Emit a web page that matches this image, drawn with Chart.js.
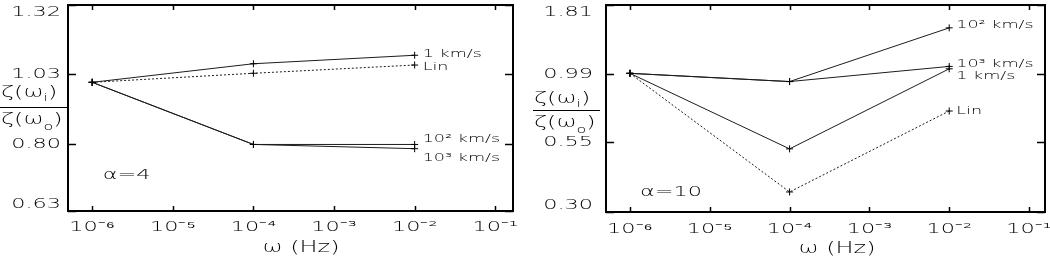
<!DOCTYPE html>
<html><head><meta charset="utf-8">
<script src="https://cdn.jsdelivr.net/npm/chart.js@4.4.1/dist/chart.umd.min.js"></script>
<style>
html,body{margin:0;padding:0;background:#fff;}
#wrap{position:relative;width:1050px;height:256px;overflow:hidden;background:#fff;}
.panel{position:absolute;top:0;width:525px;height:256px;}
canvas{display:block;}
</style></head><body>
<div id="wrap">
<div class="panel" style="left:0"><canvas id="c1" width="525" height="256"></canvas></div>
<div class="panel" style="left:525px"><canvas id="c2" width="525" height="256"></canvas></div>
</div>
<script>
// ---------- data ----------
const frequencies = [1e-6, 1e-4, 1e-2];
const xTickValues = [1e-6, 1e-5, 1e-4, 1e-3, 1e-2, 1e-1];
const xTickLabels = ['10⁻⁶', '10⁻⁵', '10⁻⁴', '10⁻³', '10⁻²', '10⁻¹'];
const xTitle = 'ω (Hz)';
const seriesNames = ['1 km/s', 'Lin', '10² km/s', '10³ km/s'];

// alpha = 4 panel
const alpha4Label = 'α=4';
const a4_1kms  = [1.00, 1.069, 1.102];
const a4_lin   = [1.00, 1.033, 1.064];
const a4_1e2   = [1.00, 0.800, 0.800];
const a4_1e3   = [1.00, 0.800, 0.788];
const a4YTicks = [0.63, 0.80, 1.03, 1.32];
const a4YTickLabels = ['0.63', '0.80', '1.03', '1.32'];

// alpha = 10 panel
const alpha10Label = 'α=10';
const a10_1kms = [1.00, 0.519, 1.040];
const a10_lin  = [1.00, 0.357, 0.721];
const a10_1e2  = [1.00, 0.931, 1.484];
const a10_1e3  = [1.00, 0.931, 1.062];
const a10YTicks = [0.30, 0.55, 0.99, 1.81];
const a10YTickLabels = ['0.30', '0.55', '0.99', '1.81'];

// ---------- helpers ----------
const FONT = "'DejaVu Sans', sans-serif";
const WEIGHT = '200';
const INK = '#000';
const STRETCH = 1.6;   // wide lettering as in the original figure

function widenText(ctx, k) {
  const orig = ctx.fillText;
  ctx.fillText = function (text, x, y) {
    this.save();
    this.translate(x, y);
    this.scale(k, 1);
    orig.call(this, text, 0, 0);
    this.restore();
  };
}
function font(size) { return WEIGHT + ' ' + size + 'px ' + FONT; }

function pts(values) { return frequencies.map((f, i) => ({x: f, y: values[i]})); }

function makeDataset(name, values, dashed, endLabel) {
  return {
    label: name,
    data: pts(values),
    borderColor: '#1c1c1c',
    borderWidth: 1,
    borderDash: dashed ? [2, 2] : [],
    pointStyle: 'cross',
    pointRadius: 3.5,
    pointBorderWidth: 1,
    pointBorderColor: '#000',
    pointBackgroundColor: '#000',
    fill: false,
    tension: 0,
    endLabel: endLabel
  };
}

const framePlugin = {
  id: 'frameTicks',
  afterDraw(chart) {
    const {ctx, chartArea: a, scales} = chart;
    ctx.save();
    ctx.strokeStyle = '#000';
    ctx.lineWidth = 2;
    ctx.strokeRect(a.left, a.top, a.right - a.left, a.bottom - a.top);
    ctx.lineWidth = 1.5;
    ctx.beginPath();
    scales.x.ticks.forEach(t => {
      const px = Math.round(scales.x.getPixelForValue(t.value)) + 0.5;
      ctx.moveTo(px, a.bottom); ctx.lineTo(px, a.bottom - 5);
      ctx.moveTo(px, a.top); ctx.lineTo(px, a.top + 5);
    });
    scales.y.ticks.forEach(t => {
      const py = Math.round(scales.y.getPixelForValue(t.value)) + 0.5;
      ctx.moveTo(a.left, py); ctx.lineTo(a.left + 8, py);
      ctx.moveTo(a.right, py); ctx.lineTo(a.right - 8, py);
    });
    ctx.stroke();
    ctx.restore();
  }
};

function drawSubText(ctx, x, y, main, sub, tail, subDrop) {
  ctx.font = font(15);
  ctx.fillText(main, x, y);
  x += ctx.measureText(main).width * STRETCH;
  ctx.font = font(10);
  ctx.fillText(sub, x, y + subDrop);
  x += ctx.measureText(sub).width * STRETCH;
  ctx.font = font(15);
  ctx.fillText(tail, x, y);
}

const annotPlugin = {
  id: 'annot',
  afterDatasetsDraw(chart, args, opts) {
    const {ctx, chartArea: a, scales} = chart;
    ctx.save();
    ctx.fillStyle = INK;
    // series end labels
    ctx.font = font(11);
    ctx.textAlign = 'left';
    ctx.textBaseline = 'middle';
    chart.data.datasets.forEach((ds, i) => {
      const meta = chart.getDatasetMeta(i);
      const p = meta.data[meta.data.length - 1];
      const e = ds.endLabel;
      ctx.fillText(ds.label, p.x + e.dx, p.y + e.dy);
    });
    // alpha label
    ctx.font = font(14);
    ctx.fillText(opts.alpha.text, scales.x.getPixelForValue(opts.alpha.x), scales.y.getPixelForValue(opts.alpha.y));
    // x-axis title
    ctx.font = font(15);
    ctx.textAlign = 'center';
    ctx.textBaseline = 'alphabetic';
    ctx.fillText(xTitle, (a.left + a.right) / 2 + opts.titleDx, opts.titleY);
    // y-axis fraction label
    const f = opts.frac;
    ctx.textAlign = 'left';
    drawSubText(ctx, f.x, f.numY, 'ζ(ω', 'i', ')', 4);
    drawSubText(ctx, f.x, f.denY, 'ζ(ω', 'o', ')', 6);
    ctx.strokeStyle = '#000';
    ctx.lineWidth = 1;
    ctx.beginPath();
    ctx.moveTo(f.lineX1, f.lineY + 0.5);
    ctx.lineTo(f.lineX2, f.lineY + 0.5);
    ctx.stroke();
    ctx.restore();
  }
};

function makeChart(id, cfg) {
  const yTicks = cfg.yTicks, yLabels = cfg.yLabels;
  const ctx = document.getElementById(id).getContext('2d');
  widenText(ctx, STRETCH);
  return new Chart(ctx, {
    type: 'line',
    data: {datasets: cfg.datasets},
    plugins: [framePlugin, annotPlugin],
    options: {
      responsive: false,
      animation: false,
      devicePixelRatio: 1,
      events: [],
      layout: {padding: {top: 1, right: cfg.padRight, left: 0, bottom: 0}},
      plugins: {
        legend: {display: false},
        tooltip: {enabled: false},
        annot: cfg.annot
      },
      scales: {
        x: {
          type: 'logarithmic',
          min: cfg.xMin, max: cfg.xMax,
          grid: {display: false, drawTicks: false},
          border: {display: false},
          afterBuildTicks: s => { s.ticks = xTickValues.map(v => ({value: v})); },
          afterFit: s => { s.height = cfg.xHeight; s.paddingLeft = 0; s.paddingRight = 0; },
          ticks: {
            autoSkip: false, maxRotation: 0, minRotation: 0,
            padding: cfg.xPad,
            color: INK,
            font: {family: FONT, size: 14, weight: WEIGHT, lineHeight: 1},
            callback: v => xTickLabels[xTickValues.findIndex(t => Math.abs(Math.log10(t) - Math.log10(v)) < 1e-6)]
          }
        },
        y: {
          type: 'logarithmic',
          min: yTicks[0], max: yTicks[yTicks.length - 1],
          grid: {display: false, drawTicks: false},
          border: {display: false},
          afterBuildTicks: s => { s.ticks = yTicks.map(v => ({value: v})); },
          afterFit: s => { s.width = cfg.yWidth; s.paddingTop = 0; s.paddingBottom = 0; },
          ticks: {
            autoSkip: false,
            padding: cfg.yPad,
            color: INK,
            font: {family: FONT, size: 14, weight: WEIGHT, lineHeight: 1},
            callback: (v) => {
              const i = yTicks.findIndex(t => Math.abs(t - v) < 1e-9);
              const lab = yLabels[i];
              if (i === yTicks.length - 1) return ['', lab];
              if (i === 0) return [lab, ''];
              return lab;
            }
          }
        }
      }
    }
  });
}

makeChart('c1', {
  yTicks: a4YTicks, yLabels: a4YTickLabels,
  xMin: Math.pow(10, -6.30), xMax: Math.pow(10, -0.78),
  padRight: 12, yWidth: 68, xHeight: 45, xPad: 9, yPad: 7,
  datasets: [
    makeDataset(seriesNames[0], a4_1kms, false, {dx: 8, dy: -1.5}),
    makeDataset(seriesNames[1], a4_lin, true, {dx: 8, dy: 2}),
    makeDataset(seriesNames[2], a4_1e2, false, {dx: 8, dy: -5}),
    makeDataset(seriesNames[3], a4_1e3, false, {dx: 8, dy: 9})
  ],
  annot: {
    alpha: {text: alpha4Label, x: Math.pow(10, -5.87), y: 0.715},
    titleDx: 10.5, titleY: 252,
    frac: {x: 1, numY: 97, denY: 124, lineX1: 0, lineX2: 67, lineY: 107}
  }
});

makeChart('c2', {
  yTicks: a10YTicks, yLabels: a10YTickLabels,
  xMin: Math.pow(10, -6.30), xMax: Math.pow(10, -0.80),
  padRight: 5, yWidth: 81, xHeight: 44, xPad: 10.5, yPad: 13,
  datasets: [
    makeDataset(seriesNames[0], a10_1kms, false, {dx: 7, dy: 7}),
    makeDataset(seriesNames[1], a10_lin, true, {dx: 7, dy: 0}),
    makeDataset(seriesNames[2], a10_1e2, false, {dx: 7, dy: -3}),
    makeDataset(seriesNames[3], a10_1e3, false, {dx: 7, dy: -2})
  ],
  annot: {
    alpha: {text: alpha10Label, x: Math.pow(10, -5.875), y: 0.356},
    titleDx: 11.5, titleY: 253,
    frac: {x: 9, numY: 103, denY: 127, lineX1: 8, lineX2: 75, lineY: 110}
  }
});
</script>
</body></html>
